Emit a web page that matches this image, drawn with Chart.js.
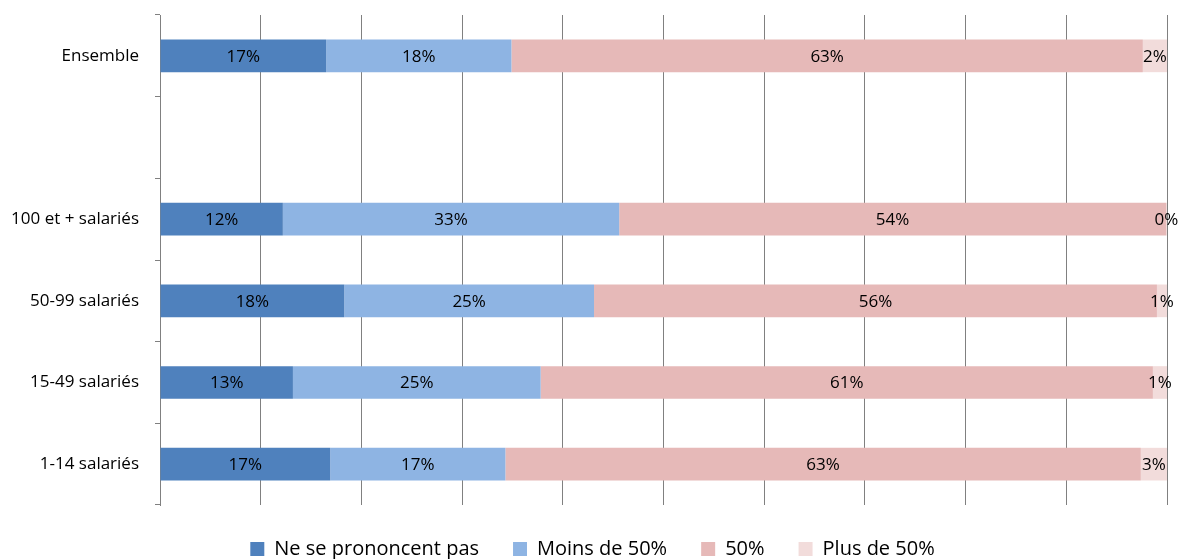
<!DOCTYPE html>
<html>
<head>
<meta charset="utf-8">
<title>Répartition par taille d'entreprise</title>
<script src="https://cdn.jsdelivr.net/npm/chart.js@4.4.1/dist/chart.umd.min.js"></script>
<style>
  html, body { margin: 0; padding: 0; background: #fff; overflow: hidden; height: 559px; }
  canvas { display: block; }
</style>
</head>
<body>
<canvas id="barchart" width="1184" height="569"></canvas>
<script>
// categories from top to bottom, the empty one leaves a gap under "Ensemble"
const categories = ['Ensemble', '', '100 et + salariés', '50-99 salariés', '15-49 salariés', '1-14 salariés'];
const seriesNames = ['Ne se prononcent pas', 'Moins de 50%', '50%', 'Plus de 50%'];

// shares in %, one value per category
const nePrononcentPas = [16.5, null, 12.2, 18.3, 13.2, 16.9];
const moinsDe50 = [18.4, null, 33.4, 24.8, 24.6, 17.4];
const cinquante = [62.7, null, 54.3, 55.9, 60.8, 63.1];
const plusDe50 = [2.4, null, 0.1, 1.0, 1.4, 2.6];

const xTicks = [0, 10, 20, 30, 40, 50, 60, 70, 80, 90, 100];

const colors = ['#4f81bd', '#8eb4e3', '#e6b9b8', '#f2dcdb'];
const gridColor = '#808080';

// writes the rounded share in the middle of each bar segment
const barLabels = {
  id: 'barLabels',
  afterDatasetsDraw(chart) {
    const ctx = chart.ctx;
    ctx.save();
    ctx.font = '17px "Open Sans"';
    ctx.fillStyle = '#000';
    ctx.textAlign = 'center';
    ctx.textBaseline = 'middle';
    chart.data.datasets.forEach((ds, i) => {
      chart.getDatasetMeta(i).data.forEach((bar, j) => {
        const v = ds.data[j];
        if (v === null) return;
        ctx.fillText(Math.round(v) + '%', (bar.x + bar.base) / 2, bar.y + 1);
      });
    });
    ctx.restore();
  }
};

// nudges the legend row a little to the right
const legendShift = {
  id: 'legendShift',
  afterLayout(chart) {
    chart.legend.left += 9;
    chart.legend.right += 9;
  }
};

function draw() {
  Chart.defaults.font.family = '"Open Sans", sans-serif';
  Chart.defaults.color = '#000';

  const ctx = document.getElementById('barchart').getContext('2d');
  const series = [nePrononcentPas, moinsDe50, cinquante, plusDe50];

  new Chart(ctx, {
    type: 'bar',
    data: {
      labels: categories,
      datasets: series.map((values, i) => ({
        label: seriesNames[i],
        data: values,
        backgroundColor: colors[i],
        borderWidth: 0,
        barPercentage: 0.4,
        categoryPercentage: 1
      }))
    },
    options: {
      indexAxis: 'y',
      responsive: false,
      animation: false,
      layout: { padding: { top: 15, right: 17, left: 0, bottom: 0 } },
      plugins: {
        tooltip: { enabled: false },
        legend: {
          position: 'bottom',
          labels: {
            boxWidth: 14,
            boxHeight: 14,
            padding: 34,
            font: { size: 20 }
          }
        }
      },
      scales: {
        x: {
          stacked: true,
          min: 0,
          max: 100,
          afterBuildTicks: (scale) => { scale.ticks = xTicks.map(v => ({ value: v })); },
          afterFit: (scale) => { scale.height = 0; },
          ticks: { display: false },
          border: { display: false },
          grid: { color: gridColor, drawTicks: false }
        },
        y: {
          stacked: true,
          afterFit: (scale) => {
            scale.width = 160;
            scale.paddingTop = 0;
            scale.paddingBottom = 0;
          },
          border: { display: true, color: gridColor },
          grid: {
            offset: true,
            drawOnChartArea: false,
            drawTicks: true,
            tickLength: 5,
            color: gridColor
          },
          ticks: { padding: 16, font: { size: 17 } }
        }
      }
    },
    plugins: [barLabels, legendShift]
  });
}

document.fonts.load('17px "Open Sans"').then(draw, draw);
</script>
</body>
</html>
